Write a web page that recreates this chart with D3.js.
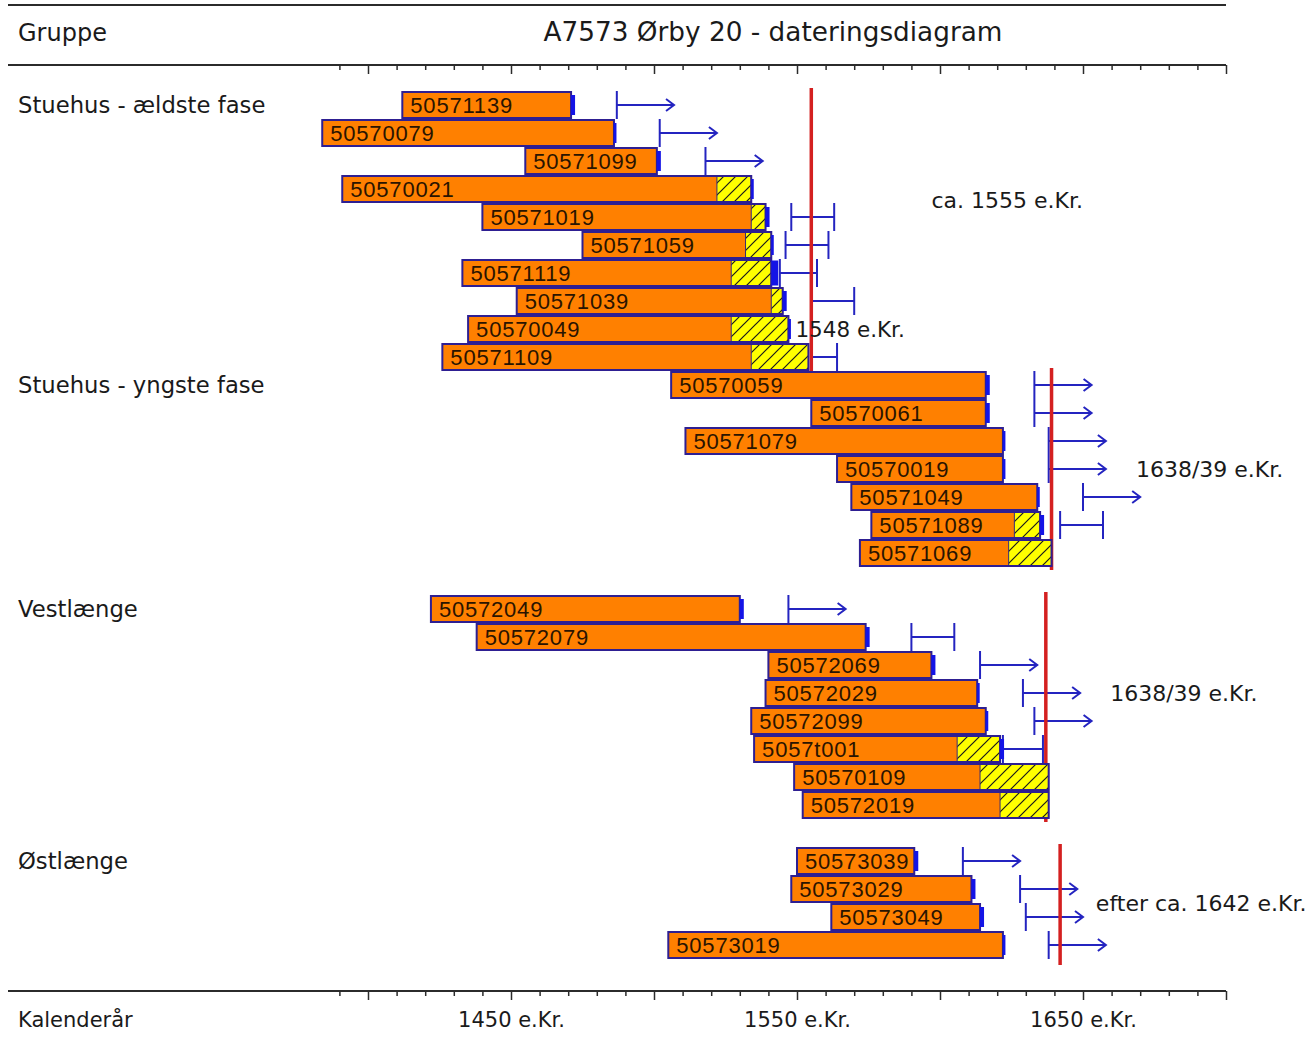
<!DOCTYPE html>
<html>
<head>
<meta charset="utf-8">
<script src="https://cdn.jsdelivr.net/npm/d3@7"></script>
<style>
  body { margin: 0; background: #fff; }
  svg { display: block; }
</style>
</head>
<body>
<div id="chart"></div>
<script>
//chart size
const width = 1315;
const height = 1043;

//groups (building parts) and the felling date given for each
const groupNames = ["Stuehus - ældste fase", "Stuehus - yngste fase", "Vestlænge", "Østlænge"];
const groupDates = [1555, 1639, 1637, 1642];
const groupDateLabels = ["ca. 1555 e.Kr.", "1638/39 e.Kr.", "1638/39 e.Kr.", "efter ca. 1642 e.Kr."];

//samples, in drawing order
const sampleIds = [
  "50571139", "50570079", "50571099", "50570021", "50571019", "50571059", "50571119", "50571039", "50570049", "50571109",
  "50570059", "50570061", "50571079", "50570019", "50571049", "50571089", "50571069",
  "50572049", "50572079", "50572069", "50572029", "50572099", "5057t001", "50570109", "50572019",
  "50573039", "50573029", "50573049", "50573019"
];
const sampleGroup = [0,0,0,0,0,0,0,0,0,0, 1,1,1,1,1,1,1, 2,2,2,2,2,2,2,2, 3,3,3,3];
//first ring, last heartwood ring, last sapwood ring (null = no sapwood)
const startYear = [1412, 1384, 1455, 1391, 1440, 1475, 1433, 1452, 1435, 1426,
  1506, 1555, 1511, 1564, 1569, 1576, 1572,
  1422, 1438, 1540, 1539, 1534, 1535, 1549, 1552,
  1550, 1548, 1562, 1505];
const heartEnd = [1471, 1486, 1501, 1522, 1534, 1532, 1527, 1541, 1527, 1534,
  1616, 1616, 1622, 1622, 1634, 1626, 1624,
  1530, 1574, 1597, 1613, 1616, 1606, 1614, 1621,
  1591, 1611, 1614, 1622];
const sapEnd = [null, null, null, 1534, 1539, 1541, 1541, 1545, 1547, 1554,
  null, null, null, null, null, 1635, 1639,
  null, null, null, null, null, 1621, 1638, 1638,
  null, null, null, null];
//edge marker at end of the sample: 0 none, 1 weak, 2 normal, 3 strong
const edgeMark = [2, 1, 2, 1, 2, 1, 3, 2, 1, 0,
  2, 2, 1, 1, 1, 2, 0,
  2, 2, 2, 1, 1, 2, 0, 0,
  2, 2, 2, 1];
//felling estimate: "after" = arrow, "range" = interval, "" = none
const fellingType = ["after", "after", "after", "", "range", "range", "range", "range", "", "range",
  "after", "after", "after", "after", "after", "range", "",
  "after", "range", "after", "after", "after", "range", "", "",
  "after", "after", "after", "after"];
const fellingFrom = [1487, 1502, 1518, null, 1548, 1546, 1544, 1555, null, 1555,
  1633, 1633, 1638, 1638, 1650, 1642, null,
  1547, 1590, 1614, 1629, 1633, 1622, null, null,
  1608, 1628, 1630, 1638];
const fellingTo = [null, null, null, null, 1563, 1561, 1557, 1570, null, 1564,
  null, null, null, null, null, 1657, null,
  null, 1605, null, null, null, 1636, null, null,
  null, null, null, null];
const sampleNotes = ["", "", "", "", "", "", "", "", "1548 e.Kr.", "",
  "", "", "", "", "", "", "",
  "", "", "", "", "", "", "", "",
  "", "", "", ""];

//axis
const axisTicks = d3.range(1390, 1701, 10);
const axisLabels = [1450, 1550, 1650];

//layout settings
const arrowYears = 20;               //length of "after" arrows
const groupGapBefore = [0, 0, 1, 1]; //empty rows before each group
const annoYear = [1597, 1668.5, 1659.5, 1654.5]; //where the date texts sit
const annoRow = [3.4, 13, 21, 28.5];

const comic = "'Comic Sans MS', 'DejaVu Sans', sans-serif";
const blue = "#2424c0";
const outline = "#2e1f92";

//work out the row of each sample
const sampleRow = [];
let gap = 0;
sampleIds.forEach((id, i) => {
  if (i === 0 || sampleGroup[i] !== sampleGroup[i - 1]) gap += groupGapBefore[sampleGroup[i]];
  sampleRow.push(i + gap);
});
const nRows = d3.max(sampleRow) + 1;

const samples = sampleIds.map((id, i) => ({
  id: id, group: sampleGroup[i], row: sampleRow[i],
  start: startYear[i], heart: heartEnd[i], sap: sapEnd[i],
  mark: edgeMark[i], ftype: fellingType[i], ffrom: fellingFrom[i], fto: fellingTo[i],
  note: sampleNotes[i]
}));

const x = d3.scaleLinear().domain([1390, 1700]).range([339.4, 1226]);
const y = d3.scaleBand().domain(d3.range(nRows)).range([91, 959]);
const rowMid = (r) => y(Math.floor(r)) + (r - Math.floor(r)) * y.step() + y.bandwidth() / 2;

const svg = d3.select("#chart").append("svg")
  .attr("width", width)
  .attr("height", height);

//hatch for sapwood
const pat = svg.append("defs").append("pattern")
  .attr("id", "hatch")
  .attr("patternUnits", "userSpaceOnUse")
  .attr("width", 12)
  .attr("height", 12);
pat.append("rect").attr("width", 12).attr("height", 12).attr("fill", "#ffff00");
pat.append("path")
  .attr("d", "M0,12 L12,0 M-3,3 L3,-3 M9,15 L15,9")
  .attr("stroke", "#1a1a1a")
  .attr("stroke-width", 1.2);

//header and frame lines
[5, 65, 991].forEach((ly) => {
  svg.append("line")
    .attr("x1", 8).attr("x2", x.range()[1])
    .attr("y1", ly).attr("y2", ly)
    .attr("stroke", "#2b2b2b")
    .attr("stroke-width", 2);
});

svg.append("text")
  .attr("x", 18).attr("y", 41)
  .attr("font-family", comic).attr("font-size", "24px").attr("fill", "#1a1a1a")
  .text("Gruppe");
svg.append("text")
  .attr("x", 773).attr("y", 41)
  .attr("text-anchor", "middle")
  .attr("font-family", comic).attr("font-size", "26.3px").attr("fill", "#1a1a1a")
  .text("A7573 Ørby 20 - dateringsdiagram");

//tick rows (top and bottom), ticks pointing down
[65, 991].forEach((ay) => {
  const g = svg.append("g")
    .attr("transform", `translate(0,${ay})`)
    .call(d3.axisBottom(x).tickValues(axisTicks).tickFormat("").tickSizeOuter(0));
  g.select(".domain").remove();
  g.selectAll(".tick line")
    .attr("stroke", "#2b2b2b")
    .attr("stroke-width", 1.5)
    .attr("y2", (d) => (d % 50 === 0 ? 9 : 5));
});

const labelAxis = svg.append("g")
  .attr("transform", "translate(0,991)")
  .call(d3.axisBottom(x).tickValues(axisLabels).tickSize(0).tickPadding(21)
    .tickFormat((d) => d + " e.Kr."));
labelAxis.select(".domain").remove();
labelAxis.selectAll("text")
  .attr("font-family", comic).attr("font-size", "21px").attr("fill", "#1a1a1a");

svg.append("text")
  .attr("x", 18).attr("y", 1027)
  .attr("font-family", comic).attr("font-size", "21px").attr("fill", "#1a1a1a")
  .text("Kalenderår");

//group labels
groupNames.forEach((name, gi) => {
  const first = samples.find((s) => s.group === gi);
  svg.append("text")
    .attr("x", 18).attr("y", rowMid(first.row) + 8)
    .attr("font-family", comic).attr("font-size", "22.7px").attr("fill", "#1a1a1a")
    .text(name);
});

//felling estimates (blue)
const fell = svg.append("g")
  .attr("stroke", blue)
  .attr("stroke-width", 2)
  .attr("fill", "none");

samples.filter((s) => s.ftype !== "").forEach((s) => {
  const cy = rowMid(s.row);
  const top = y(s.row);
  const bot = y(s.row) + y.bandwidth();
  const x0 = x(s.ffrom);
  const x1 = s.ftype === "after" ? x(s.ffrom + arrowYears) : x(s.fto);
  fell.append("line").attr("x1", x0).attr("x2", x0).attr("y1", top).attr("y2", bot);
  fell.append("line").attr("x1", x0).attr("x2", x1).attr("y1", cy).attr("y2", cy);
  if (s.ftype === "range") {
    fell.append("line").attr("x1", x1).attr("x2", x1).attr("y1", top).attr("y2", bot);
  } else {
    fell.append("path").attr("d", `M${x1 - 8},${cy - 6} L${x1},${cy} L${x1 - 8},${cy + 6}`);
  }
});

//red date lines per group
groupDates.forEach((yr, gi) => {
  const rows = samples.filter((s) => s.group === gi).map((s) => s.row);
  svg.append("line")
    .attr("x1", x(yr)).attr("x2", x(yr))
    .attr("y1", y(d3.min(rows)) - 3)
    .attr("y2", y(d3.max(rows)) + y.bandwidth() + (gi === 3 ? 6 : 3))
    .attr("stroke", "#d42020")
    .attr("stroke-width", 3.5);
});

//bars
const bars = svg.selectAll(".sample")
  .data(samples)
  .enter()
  .append("g")
  .attr("class", "sample");

bars.append("rect")
  .attr("x", (d) => x(d.start))
  .attr("y", (d) => y(d.row) + 1)
  .attr("width", (d) => x(d.heart) - x(d.start))
  .attr("height", y.bandwidth() - 2)
  .attr("fill", "#ff8000");

bars.filter((d) => d.sap !== null)
  .append("rect")
  .attr("x", (d) => x(d.heart))
  .attr("y", (d) => y(d.row) + 1)
  .attr("width", (d) => x(d.sap) - x(d.heart))
  .attr("height", y.bandwidth() - 2)
  .attr("fill", "url(#hatch)")
  .attr("stroke", "#3a2a70")
  .attr("stroke-width", 1);

bars.append("rect")
  .attr("x", (d) => x(d.start))
  .attr("y", (d) => y(d.row) + 1)
  .attr("width", (d) => x(d.sap !== null ? d.sap : d.heart) - x(d.start))
  .attr("height", y.bandwidth() - 2)
  .attr("fill", "none")
  .attr("stroke", outline)
  .attr("stroke-width", 2);

//edge markers
const markW = [0, 2.5, 4, 7];
const markH = [0, 20, 20, 25];
bars.filter((d) => d.mark > 0)
  .append("rect")
  .attr("x", (d) => x(d.sap !== null ? d.sap : d.heart))
  .attr("y", (d) => rowMid(d.row) - markH[d.mark] / 2)
  .attr("width", (d) => markW[d.mark])
  .attr("height", (d) => markH[d.mark])
  .attr("fill", "#1414e6");

bars.append("text")
  .attr("x", (d) => x(d.start) + 8)
  .attr("y", (d) => rowMid(d.row) + 8)
  .attr("font-family", "'Liberation Sans', Arial, sans-serif")
  .attr("font-size", "22px")
  .attr("letter-spacing", "0.8px")
  .attr("fill", "#2a1400")
  .text((d) => d.id);

//notes next to single samples
bars.filter((d) => d.note !== "")
  .append("text")
  .attr("x", (d) => x(d.sap !== null ? d.sap : d.heart) + 7)
  .attr("y", (d) => rowMid(d.row) + 8)
  .attr("font-family", comic).attr("font-size", "21.5px").attr("fill", "#1a1a1a")
  .text((d) => d.note);

//group dating texts
groupDateLabels.forEach((lbl, gi) => {
  svg.append("text")
    .attr("x", x(annoYear[gi]))
    .attr("y", rowMid(annoRow[gi]) + 8)
    .attr("font-family", comic).attr("font-size", "22px").attr("fill", "#1a1a1a")
    .text(lbl);
});
</script>
</body>
</html>
